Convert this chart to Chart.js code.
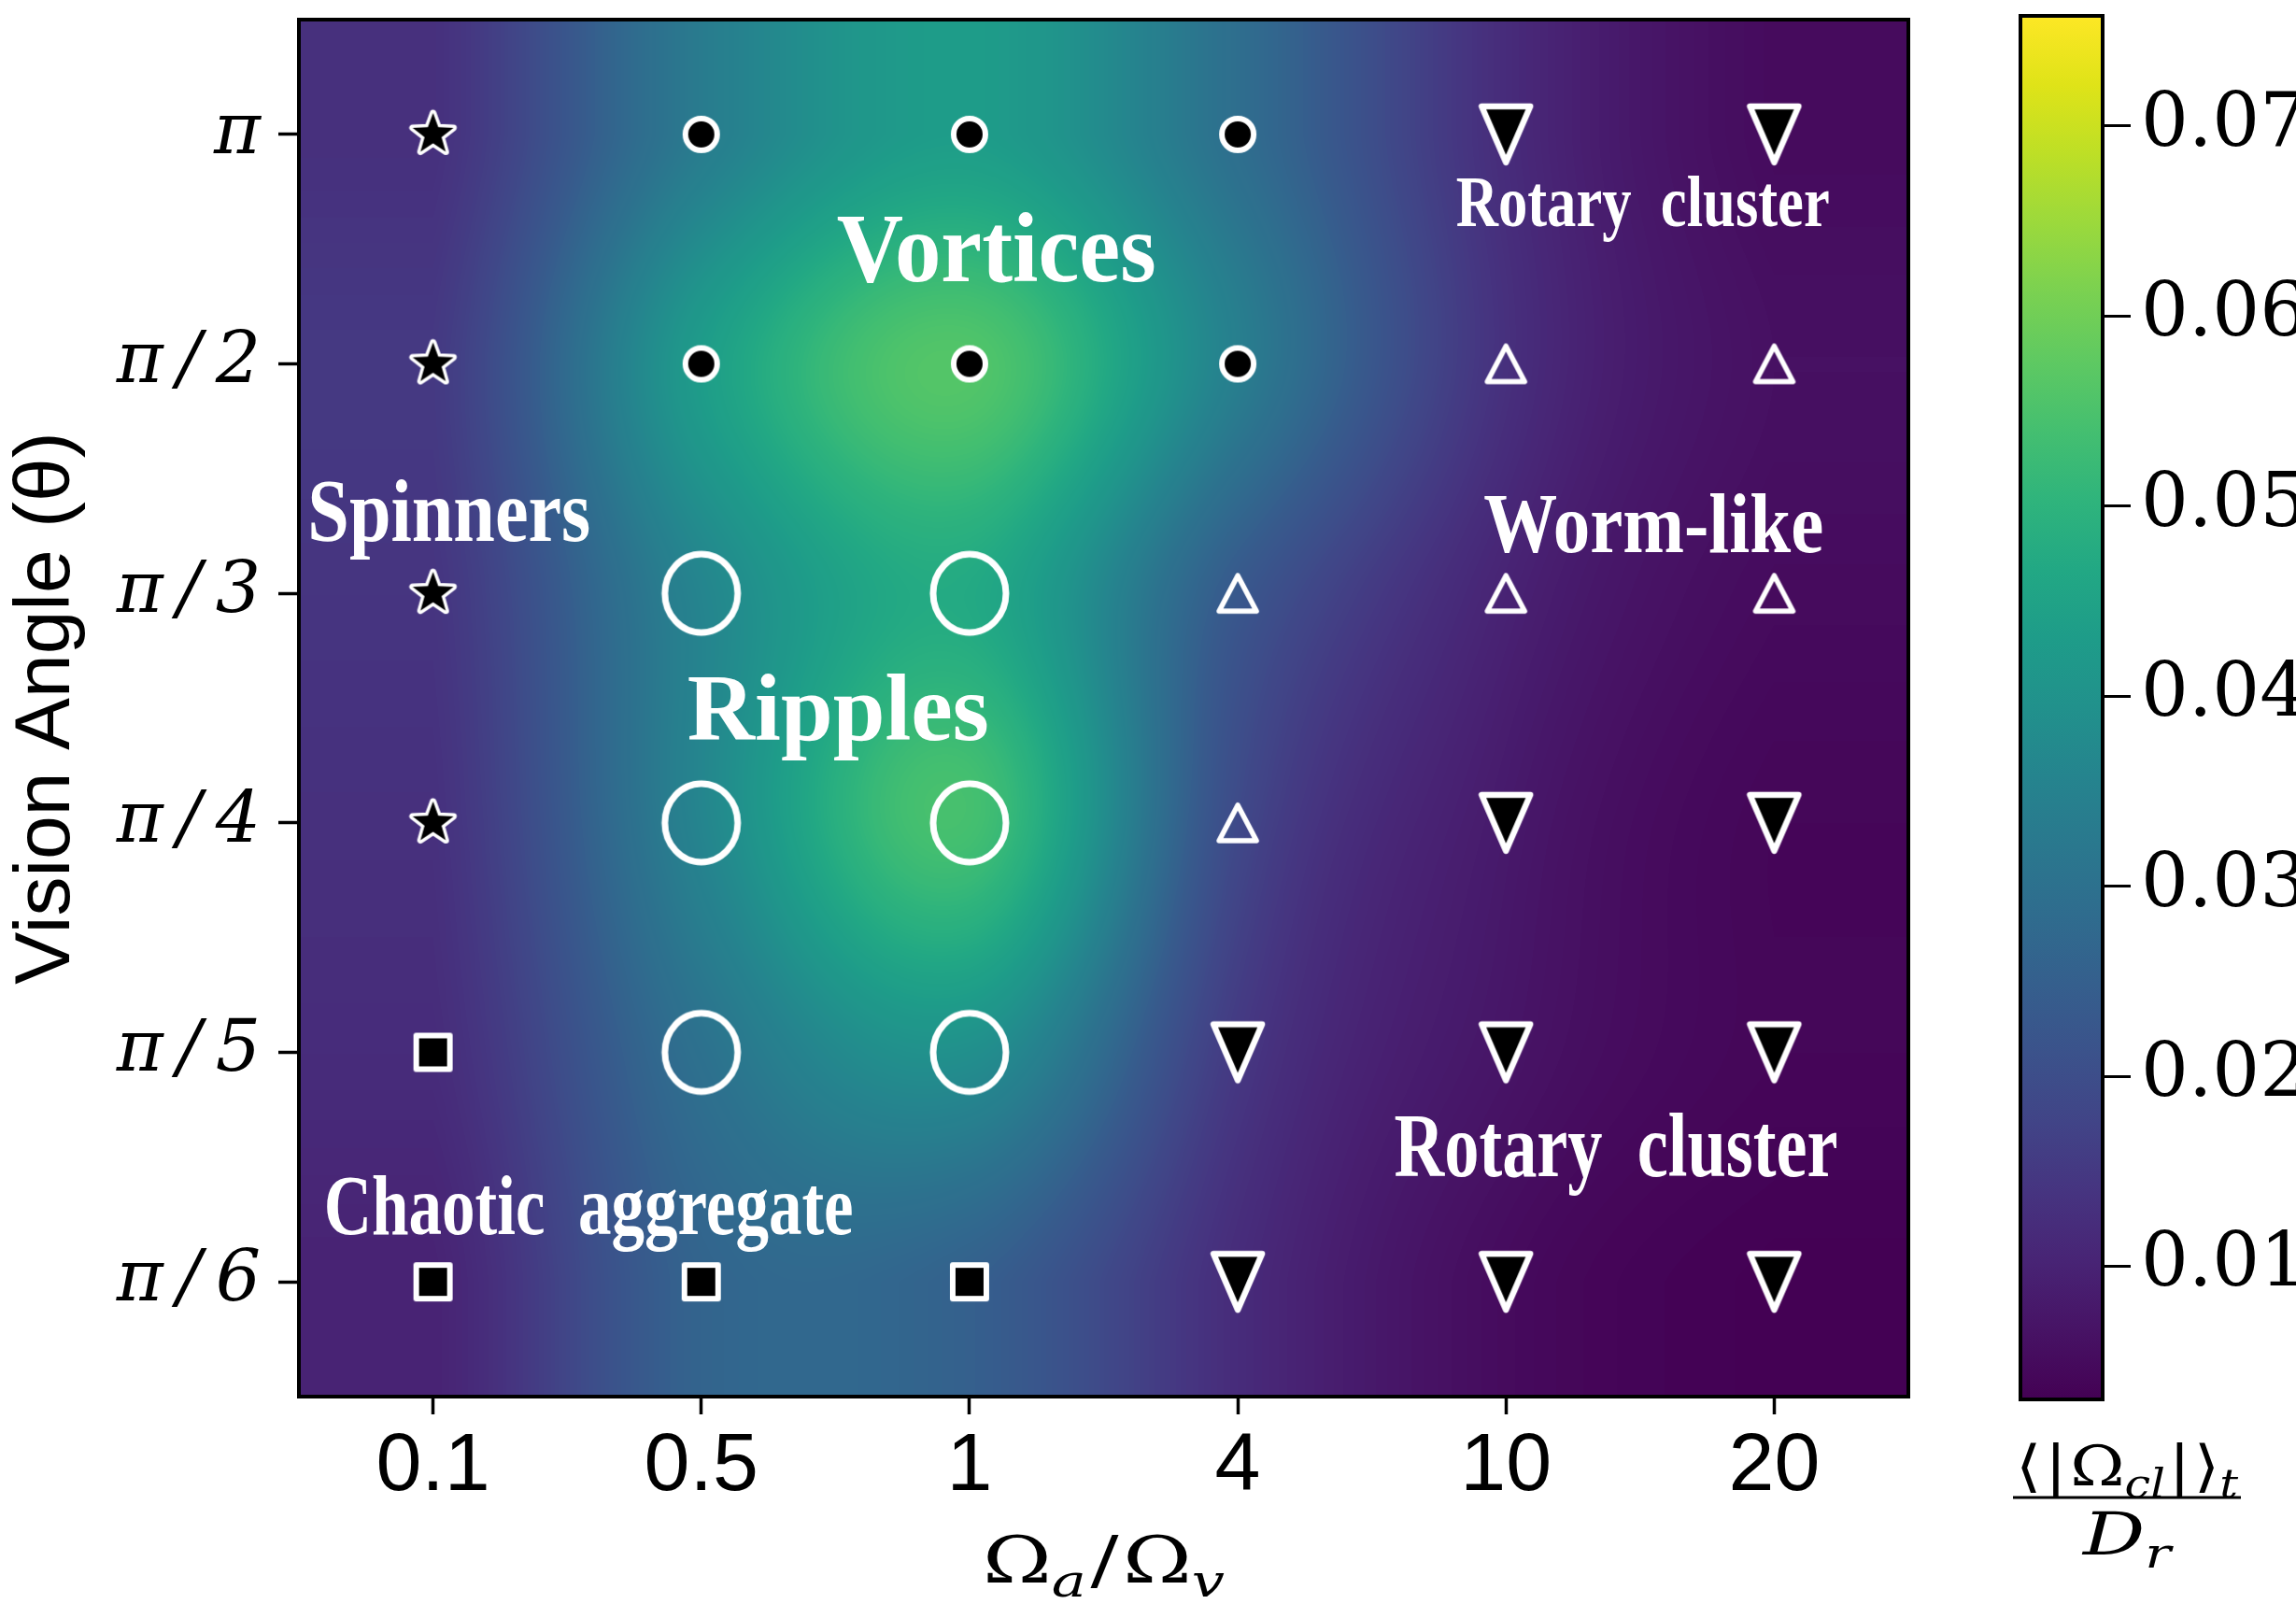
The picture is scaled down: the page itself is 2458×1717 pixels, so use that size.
<!DOCTYPE html>
<html>
<head>
<meta charset="utf-8">
<script src="https://cdn.jsdelivr.net/npm/chart.js@4.4.1/dist/chart.umd.min.js"></script>
<style>
  html, body { margin: 0; padding: 0; background: #fff; }
  #wrap { position: relative; width: 2458px; height: 1717px; overflow: hidden; }
  #main { position: absolute; left: 0; top: 0; }
  #cbar { position: absolute; left: 2100px; top: 0; }
</style>
</head>
<body>
<div id="wrap">
  <canvas id="main" width="2458" height="1717"></canvas>
  <canvas id="cbar" width="358" height="1717"></canvas>
</div>
<script>
const omegaRatios = ['0.1', '0.5', '1', '4', '10', '20'];
const visionAngles = ['π/6', 'π/5', 'π/4', 'π/3', 'π/2', 'π'];

// <|Omega_cl|>_t / D_r at each grid point, columns follow omegaRatios
const heatPi  = [0.013, 0.033, 0.043, 0.029, 0.012, 0.005];
const heatPi2 = [0.015, 0.043, 0.056, 0.034, 0.013, 0.006];
const heatPi3 = [0.014, 0.036, 0.047, 0.023, 0.010, 0.005];
const heatPi4 = [0.013, 0.036, 0.054, 0.019, 0.008, 0.004];
const heatPi5 = [0.012, 0.030, 0.039, 0.015, 0.007, 0.004];
const heatPi6 = [0.010, 0.026, 0.025, 0.012, 0.005, 0.003];
const heatRows = [heatPi6, heatPi5, heatPi4, heatPi3, heatPi2, heatPi]; // same order as visionAngles

const cbMin = 0.003, cbMax = 0.0758;
const cbTicks = [0.01, 0.02, 0.03, 0.04, 0.05, 0.06, 0.07];

// phase found at each (ratio, angle)
const spinners = [['0.1', 'π'], ['0.1', 'π/2'], ['0.1', 'π/3'], ['0.1', 'π/4']];
const vortices = [['0.5', 'π'], ['1', 'π'], ['4', 'π'], ['0.5', 'π/2'], ['1', 'π/2'], ['4', 'π/2']];
const ripples = [['0.5', 'π/3'], ['1', 'π/3'], ['0.5', 'π/4'], ['1', 'π/4'], ['0.5', 'π/5'], ['1', 'π/5']];
const wormLike = [['10', 'π/2'], ['20', 'π/2'], ['4', 'π/3'], ['10', 'π/3'], ['20', 'π/3'], ['4', 'π/4']];
const rotaryCluster = [['10', 'π'], ['20', 'π'], ['10', 'π/4'], ['20', 'π/4'], ['4', 'π/5'], ['10', 'π/5'],
                       ['20', 'π/5'], ['4', 'π/6'], ['10', 'π/6'], ['20', 'π/6']];
const chaoticAggregate = [['0.1', 'π/5'], ['0.1', 'π/6'], ['0.5', 'π/6'], ['1', 'π/6']];

const viridis = ['#440154', '#471365', '#482475', '#463480', '#414487', '#3b528b', '#355f8d',
  '#2f6c8e', '#2a788e', '#25848e', '#21918c', '#1e9c89', '#22a884', '#2fb47c', '#44bf70',
  '#5ec962', '#7ad151', '#9bd93c', '#bddf26', '#dfe318', '#fde725'];

function hexRgb(h) { return [1, 3, 5].map(i => parseInt(h.substr(i, 2), 16)); }
const lut = [];
for (let i = 0; i < 256; i++) {
  const f = i / 255 * (viridis.length - 1);
  const k = Math.min(Math.floor(f), viridis.length - 2), t = f - k;
  const a = hexRgb(viridis[k]), b = hexRgb(viridis[k + 1]);
  lut.push([0, 1, 2].map(c => Math.round(a[c] + (b[c] - a[c]) * t)));
}

function toPoints(list) {
  return list.map(p => ({ x: omegaRatios.indexOf(p[0]), y: visionAngles.indexOf(p[1]) }));
}

// marker images
function marker(size, draw) {
  const c = document.createElement('canvas');
  c.width = size; c.height = size;
  const g = c.getContext('2d');
  g.translate(size / 2, size / 2);
  g.lineJoin = 'round';
  g.strokeStyle = '#fff';
  g.fillStyle = '#000';
  draw(g);
  return c;
}
const starMark = marker(76, g => {
  g.beginPath();
  for (let i = 0; i < 10; i++) {
    const r = i % 2 ? 9.5 : 23, ang = -Math.PI / 2 + i * Math.PI / 5;
    g.lineTo(r * Math.cos(ang), r * Math.sin(ang));
  }
  g.closePath(); g.lineWidth = 7; g.stroke(); g.fill();
});
const dotMark = marker(60, g => {
  g.beginPath(); g.arc(0, 0, 17, 0, Math.PI * 2);
  g.lineWidth = 6; g.fill(); g.stroke();
});
const ringMark = marker(110, g => {
  g.beginPath(); g.ellipse(0, 0, 39, 42, 0, 0, Math.PI * 2);
  g.lineWidth = 7; g.stroke();
});
const upMark = marker(76, g => {
  g.beginPath(); g.moveTo(0, -19); g.lineTo(20, 19); g.lineTo(-20, 19); g.closePath();
  g.lineWidth = 5.5; g.stroke();
});
const downMark = marker(100, g => {
  g.beginPath(); g.moveTo(-26, -30); g.lineTo(26, -30); g.lineTo(0, 30); g.closePath();
  g.lineWidth = 6.5; g.fill(); g.stroke();
});
const squareMark = marker(64, g => {
  g.beginPath(); g.rect(-18, -18, 36, 36);
  g.lineWidth = 6; g.fill(); g.stroke();
});

function catmull(t) {
  const t2 = t * t, t3 = t2 * t;
  return [0.5 * (-t + 2 * t2 - t3), 0.5 * (2 - 5 * t2 + 3 * t3), 0.5 * (t + 4 * t2 - 3 * t3), 0.5 * (-t2 + t3)];
}
const clampI = (i, n) => Math.max(0, Math.min(n - 1, i));

const heatmapPlugin = {
  id: 'heatmap',
  beforeDatasetsDraw(chart) {
    const { ctx, chartArea: a, scales: { x, y } } = chart;
    const w = Math.round(a.right - a.left), h = Math.round(a.bottom - a.top);
    const n = omegaRatios.length, m = visionAngles.length;
    const rows = heatRows.map(row => {
      const out = new Float32Array(w);
      for (let i = 0; i < w; i++) {
        const gx = Math.max(0, Math.min(n - 1, x.getValueForPixel(a.left + i + 0.5)));
        const k = Math.min(Math.floor(gx), n - 2), wt = catmull(gx - k);
        out[i] = wt[0] * row[clampI(k - 1, n)] + wt[1] * row[k] + wt[2] * row[k + 1] + wt[3] * row[clampI(k + 2, n)];
      }
      return out;
    });
    const img = ctx.createImageData(w, h);
    for (let j = 0; j < h; j++) {
      const gy = Math.max(0, Math.min(m - 1, y.getValueForPixel(a.top + j + 0.5)));
      const k = Math.min(Math.floor(gy), m - 2), wt = catmull(gy - k);
      const r0 = rows[clampI(k - 1, m)], r1 = rows[k], r2 = rows[k + 1], r3 = rows[clampI(k + 2, m)];
      for (let i = 0; i < w; i++) {
        const v = wt[0] * r0[i] + wt[1] * r1[i] + wt[2] * r2[i] + wt[3] * r3[i];
        const f = Math.max(0, Math.min(1, (v - cbMin) / (cbMax - cbMin)));
        const c = lut[Math.round(f * 255)];
        const p = (j * w + i) * 4;
        img.data[p] = c[0]; img.data[p + 1] = c[1]; img.data[p + 2] = c[2]; img.data[p + 3] = 255;
      }
    }
    ctx.putImageData(img, Math.round(a.left), Math.round(a.top));
  }
};

// phase names written over the map
const phaseLabels = [
  { text: 'Vortices', x: 2.10, y: 4.36, size: 106, width: 342 },
  { text: 'Rotary  cluster', x: 4.51, y: 4.60, size: 78, width: 400 },
  { text: 'Spinners', x: 0.06, y: 3.23, size: 95, width: 303 },
  { text: 'Worm-like', x: 4.55, y: 3.18, size: 92, width: 364 },
  { text: 'Ripples', x: 1.51, y: 2.36, size: 102, width: 323 },
  { text: 'Rotary  cluster', x: 4.41, y: 0.46, size: 97, width: 475 },
  { text: 'Chaotic  aggregate', x: 0.58, y: 0.21, size: 90, width: 567 }
];
const labelPlugin = {
  id: 'phaseLabels',
  afterDatasetsDraw(chart) {
    const { ctx, scales: { x, y } } = chart;
    ctx.save();
    ctx.fillStyle = '#fff';
    ctx.textAlign = 'center';
    ctx.textBaseline = 'alphabetic';
    phaseLabels.forEach(l => {
      ctx.font = `bold ${l.size}px "Liberation Serif"`;
      const sx = l.width / ctx.measureText(l.text).width;
      ctx.save();
      ctx.translate(x.getPixelForValue(l.x), y.getPixelForValue(l.y));
      ctx.scale(sx, 1);
      ctx.fillText(l.text, 0, 0);
      ctx.restore();
    });
    ctx.restore();
  }
};

function drawMath(ctx, parts, cx, base, size, width) {
  const fontFor = p => `${p.it ? 'italic ' : ''}${p.sub ? Math.round(size * 0.7) : size}px "DejaVu Serif"`;
  let total = 0;
  const ws = parts.map(p => {
    ctx.font = fontFor(p);
    const w = ctx.measureText(p.t).width + (p.gap || 0) * size;
    total += w;
    return w;
  });
  const sx = width ? width / total : 1;
  ctx.save();
  ctx.translate(cx - total * sx / 2, base);
  ctx.scale(sx, 1);
  ctx.fillStyle = '#000';
  ctx.textAlign = 'left';
  ctx.textBaseline = 'alphabetic';
  let xx = 0;
  parts.forEach((p, i) => {
    ctx.font = fontFor(p);
    ctx.fillText(p.t, xx, p.sub ? size * 0.22 : 0);
    xx += ws[i];
  });
  ctx.restore();
}

const framePlugin = {
  id: 'frame',
  afterDraw(chart) {
    const { ctx, chartArea: a } = chart;
    ctx.save();
    ctx.strokeStyle = '#000';
    ctx.lineWidth = 4;
    ctx.strokeRect(a.left, a.top, a.right - a.left, a.bottom - a.top);
    // x axis title  Omega_a / Omega_v
    drawMath(ctx, [{ t: 'Ω' }, { t: 'a', sub: true, it: true, gap: 0.05 }, { t: '/', gap: 0.05 },
      { t: 'Ω' }, { t: 'v', sub: true, it: true }], (a.left + a.right) / 2, 1694, 70, 259);
    ctx.restore();
  }
};

function markerSet(list, img) {
  return { data: toPoints(list), pointStyle: img, pointRadius: 20, pointHoverRadius: 20 };
}

new Chart(document.getElementById('main'), {
  type: 'scatter',
  data: {
    datasets: [
      markerSet(spinners, starMark),
      markerSet(vortices, dotMark),
      markerSet(ripples, ringMark),
      markerSet(wormLike, upMark),
      markerSet(rotaryCluster, downMark),
      markerSet(chaoticAggregate, squareMark)
    ]
  },
  options: {
    responsive: false,
    animation: false,
    devicePixelRatio: 1,
    events: [],
    layout: { padding: { top: 17, right: 415, left: 0, bottom: 0 } },
    plugins: { legend: { display: false }, tooltip: { enabled: false } },
    scales: {
      x: {
        type: 'linear', min: -0.5, max: 5.5,
        afterBuildTicks: s => { s.ticks = omegaRatios.map((_, i) => ({ value: i })); },
        afterFit: s => { s.height = 222; s.paddingLeft = 0; s.paddingRight = 0; },
        ticks: {
          callback: v => omegaRatios[v], color: '#000', padding: 4, maxRotation: 0, autoSkip: false,
          font: { family: 'Liberation Sans', size: 88 }
        },
        grid: { drawOnChartArea: false, tickLength: 19, tickWidth: 3.5, tickColor: '#000' },
        border: { display: false }
      },
      y: {
        type: 'linear', min: -0.5, max: 5.5,
        afterBuildTicks: s => { s.ticks = visionAngles.map((_, i) => ({ value: i })); },
        afterFit: s => { s.width = 320; s.paddingTop = 0; s.paddingBottom = 0; },
        ticks: {
          callback: v => visionAngles[v].replace('/', '\u2009/\u2009'), color: '#000', padding: 19, autoSkip: false,
          font: { family: 'DejaVu Serif', size: 76, style: 'italic' }
        },
        grid: { drawOnChartArea: false, tickLength: 22, tickWidth: 3.5, tickColor: '#000' },
        border: { display: false },
        title: {
          display: true, text: 'Vision Angle (θ)', color: '#000',
          font: { family: 'Liberation Sans', size: 84 }, padding: { top: 0, bottom: 0 }
        }
      }
    }
  },
  plugins: [heatmapPlugin, labelPlugin, framePlugin]
});

// colour bar
const colorbarPlugin = {
  id: 'colorbar',
  beforeDatasetsDraw(chart) {
    const { ctx, chartArea: a, scales: { y } } = chart;
    const grad = ctx.createLinearGradient(0, y.getPixelForValue(cbMin), 0, y.getPixelForValue(cbMax));
    viridis.forEach((c, i) => grad.addColorStop(i / (viridis.length - 1), c));
    ctx.fillStyle = grad;
    ctx.fillRect(a.left, a.top, a.right - a.left, a.bottom - a.top);
  },
  afterDraw(chart) {
    const { ctx, chartArea: a } = chart;
    ctx.save();
    ctx.strokeStyle = '#000';
    ctx.lineWidth = 4;
    ctx.strokeRect(a.left, a.top, a.right - a.left, a.bottom - a.top);
    const cx = 177;
    drawMath(ctx, [{ t: '⟨', gap: 0.05 }, { t: '|', gap: 0.05 }, { t: 'Ω' }, { t: 'cl', sub: true, it: true, gap: 0.05 },
      { t: '|', gap: 0.05 }, { t: '⟩' }, { t: 't', sub: true, it: true }], cx, 1590, 60, 238);
    ctx.lineWidth = 3;
    ctx.beginPath(); ctx.moveTo(cx - 122, 1603); ctx.lineTo(cx + 122, 1603); ctx.stroke();
    drawMath(ctx, [{ t: 'D', it: true }, { t: 'r', sub: true, it: true }], cx, 1664, 64, 94);
    ctx.restore();
  }
};

new Chart(document.getElementById('cbar'), {
  type: 'scatter',
  data: { datasets: [] },
  options: {
    responsive: false,
    animation: false,
    devicePixelRatio: 1,
    events: [],
    layout: { padding: { top: 17, right: 0, left: 63, bottom: 219 } },
    plugins: { legend: { display: false }, tooltip: { enabled: false } },
    scales: {
      x: { display: false, min: 0, max: 1 },
      y: {
        position: 'right', min: cbMin, max: cbMax,
        afterBuildTicks: s => { s.ticks = cbTicks.map(v => ({ value: v })); },
        afterFit: s => { s.width = 207; s.paddingTop = 0; s.paddingBottom = 0; },
        ticks: {
          callback: v => v.toFixed(2), color: '#000', padding: 11,
          font: { family: 'DejaVu Serif', size: 80 }
        },
        grid: { drawOnChartArea: false, tickLength: 30, tickWidth: 3, tickColor: '#000' },
        border: { display: false }
      }
    }
  },
  plugins: [colorbarPlugin]
});
</script>
</body>
</html>
